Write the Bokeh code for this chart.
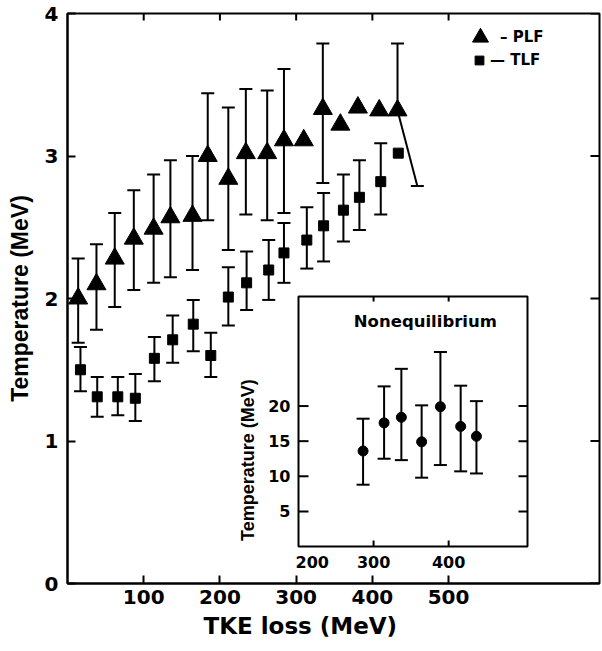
import math
from bokeh.plotting import figure
from bokeh.models import (ColumnDataSource, Whisker, TeeHead, FixedTicker,
                          Range1d, Legend, LegendItem, Title)
from bokeh.core.properties import value
from bokeh.embed import file_html
from bokeh.resources import INLINE

# ---------------- data ----------------
x_ticks = [100, 200, 300, 400, 500]
y_ticks = [0, 1, 2, 3, 4]

plf_x = [14, 38, 62, 87, 113, 135, 164, 184, 211, 234, 262, 284, 310, 335, 358, 381, 409, 433]
plf_t = [2.00, 2.10, 2.28, 2.42, 2.49, 2.57, 2.58, 3.00, 2.84, 3.02, 3.02, 3.11, 3.11, 3.33, 3.22, 3.34, 3.32, 3.32]
plf_hi = [2.28, 2.38, 2.60, 2.76, 2.87, 2.97, 3.00, 3.44, 3.34, 3.47, 3.46, 3.61, None, 3.79, None, None, None, 3.79]
plf_lo = [1.69, 1.78, 1.94, 2.06, 2.11, 2.15, 2.20, 2.55, 2.34, 2.59, 2.55, 2.60, None, 2.81, None, None, None, None]
plf_last_lo_x = [459]
plf_last_lo_t = [2.79]

tlf_x = [17, 39, 66, 89, 114, 138, 165, 188, 211, 235, 264, 284, 314, 336, 362, 383, 411, 434]
tlf_t = [1.50, 1.31, 1.31, 1.30, 1.58, 1.71, 1.82, 1.60, 2.01, 2.11, 2.20, 2.32, 2.41, 2.51, 2.62, 2.71, 2.82, 3.02]
tlf_hi = [1.66, 1.45, 1.45, 1.47, 1.73, 1.88, 1.99, 1.76, 2.22, 2.33, 2.41, 2.53, 2.64, 2.74, 2.87, 2.97, 3.09, None]
tlf_lo = [1.35, 1.17, 1.18, 1.14, 1.42, 1.55, 1.63, 1.45, 1.81, 1.92, 1.99, 2.11, 2.21, 2.26, 2.40, 2.48, 2.59, None]

# inset: Nonequilibrium
neq_x = [286, 314, 337, 364, 389, 416, 437]
neq_t = [13.6, 17.6, 18.4, 14.9, 19.9, 17.1, 15.7]
neq_hi = [18.2, 22.8, 25.3, 20.1, 27.7, 22.9, 20.7]
neq_lo = [8.8, 12.5, 12.3, 9.8, 11.6, 10.7, 10.4]
ins_x_lim = (200, 505)
ins_y_lim = (0, 35.6)
ins_x_ticks = [300, 400]
ins_x_labels = ["200", "300", "400"]
ins_y_ticks = [5, 10, 15, 20]
ins_y_labels = ["5", "10", "15", "20"]

# ---------------- layout ----------------
W, H = 602, 651
FL, FR, FT, FB = 67, 3, 13, 68
FW, FH = W - FL - FR, H - FT - FB
X_END = 698
Y_END = 4

BOLD_FONT = "DejaVu Sans"

p = figure(width=W, height=H, x_range=Range1d(0, X_END), y_range=Range1d(0, Y_END),
           output_backend="svg", toolbar_location=None,
           min_border_left=FL, min_border_right=FR, min_border_top=FT, min_border_bottom=FB)
p.xgrid.visible = False
p.ygrid.visible = False
p.outline_line_color = "black"
p.outline_line_width = 2
p.background_fill_color = "white"
p.border_fill_color = "white"

def style_axis(ax, ticks):
    ax.ticker = FixedTicker(ticks=ticks)
    ax.axis_line_width = 2
    ax.axis_line_color = "black"
    ax.major_tick_in = 8
    ax.major_tick_out = 0
    ax.major_tick_line_width = 2
    ax.major_tick_line_color = "black"
    ax.minor_tick_in = 0
    ax.minor_tick_out = 0
    ax.major_label_text_font = BOLD_FONT
    ax.major_label_text_font_style = "bold"
    ax.major_label_text_font_size = "20px"
    ax.major_label_text_color = "black"

xa = p.xaxis[0]
style_axis(xa, x_ticks)
xa.major_label_standoff = 6

ya = p.yaxis[0]
style_axis(ya, y_ticks)
ya.major_label_standoff = 9
ya.axis_label = "Temperature (MeV)"
ya.axis_label_text_font = "Liberation Sans"
ya.axis_label_text_font_style = "bold"
ya.axis_label_text_font_size = "23px"
ya.axis_label_text_color = "black"
ya.axis_label_standoff = 9

# x axis title, placed below the tick labels and starting where the reference text starts
p.add_layout(Title(text="TKE loss (MeV)", align="left", offset=136, vertical_align="bottom",
                   text_font=BOLD_FONT, text_font_size="23px", text_font_style="bold",
                   text_color="black", standoff=9), "below")

# inward ticks on the top and right frame edges
p.ray(x=x_ticks, y=[Y_END] * len(x_ticks), length=7, length_units="screen", angle=-math.pi / 2,
      line_width=2, line_color="black")
p.ray(x=[X_END] * len(y_ticks), y=y_ticks, length=9, length_units="screen", angle=math.pi,
      line_width=2, line_color="black")

# ---------------- error bars helpers ----------------
def add_whiskers(xs, ys, his, los, x_range_name="default", y_range_name="default", level="underlay"):
    fb = dict(x=[], hi=[], lo=[])
    up = dict(x=[], hi=[], lo=[])
    for x, y, h, l in zip(xs, ys, his, los):
        if h is not None and l is not None:
            fb["x"].append(x); fb["hi"].append(h); fb["lo"].append(l)
        elif h is not None:
            up["x"].append(x); up["hi"].append(h); up["lo"].append(y)
    for d, lower_head in ((fb, True), (up, False)):
        if not d["x"]:
            continue
        w = Whisker(source=ColumnDataSource(d), base="x", upper="hi", lower="lo",
                    dimension="height", line_width=2, line_color="black",
                    upper_head=TeeHead(size=13, line_width=2, line_color="black"),
                    lower_head=TeeHead(size=13, line_width=2, line_color="black") if lower_head else None,
                    x_range_name=x_range_name, y_range_name=y_range_name, level=level)
        p.add_layout(w)

add_whiskers(plf_x, plf_t, plf_hi, plf_lo)
add_whiskers(tlf_x, tlf_t, tlf_hi, tlf_lo)

# slanted lower error bar of the last PLF point
p.segment(x0=[plf_x[-1]], y0=[plf_t[-1]], x1=plf_last_lo_x, y1=plf_last_lo_t,
          line_width=2, line_color="black")
p.scatter(x=plf_last_lo_x, y=plf_last_lo_t, marker="dash", size=13,
          line_width=2, line_color="black")

r_plf = p.scatter(x=plf_x, y=plf_t, marker="triangle", size=19,
                  fill_color="black", line_color="black")
r_tlf = p.scatter(x=tlf_x, y=tlf_t, marker="square", size=10,
                  fill_color="black", line_color="black")

# ---------------- legend ----------------
leg1 = Legend(items=[LegendItem(label="– PLF", renderers=[r_plf])],
              location=(393, 526), glyph_width=40, glyph_height=40,
              label_standoff=0, padding=0, margin=0, spacing=0,
              border_line_color=None, background_fill_alpha=0,
              label_text_font=BOLD_FONT, label_text_font_style="bold",
              label_text_font_size="15px", label_text_color="black")
leg2 = Legend(items=[LegendItem(label="— TLF", renderers=[r_tlf])],
              location=(401, 512), glyph_width=22, glyph_height=22,
              label_standoff=0, padding=0, margin=0, spacing=0,
              border_line_color=None, background_fill_alpha=0,
              label_text_font=BOLD_FONT, label_text_font_style="bold",
              label_text_font_size="15px", label_text_color="black")
p.add_layout(leg1, "center")
p.add_layout(leg2, "center")

# ---------------- inset ----------------
# inset box in screen pixels (page coordinates)
box_l, box_r, box_t, box_b = 298, 527, 296, 546
fx0, fx1 = (box_l - FL) / FW, (box_r - FL) / FW
fy0, fy1 = (FT + FH - box_b) / FH, (FT + FH - box_t) / FH

def extra_range(lim, f0, f1):
    span = (lim[1] - lim[0]) / (f1 - f0)
    start = lim[0] - f0 * span
    return Range1d(start, start + span)

p.extra_x_ranges = {"ix": extra_range(ins_x_lim, fx0, fx1)}
p.extra_y_ranges = {"iy": extra_range(ins_y_lim, fy0, fy1)}
IN = dict(x_range_name="ix", y_range_name="iy")

p.quad(left=[ins_x_lim[0]], right=[ins_x_lim[1]], bottom=[ins_y_lim[0]], top=[ins_y_lim[1]],
       fill_color="white", line_color="black", line_width=2, level="underlay", **IN)

# inset ticks (inward)
n_y = len(ins_y_ticks)
n_x = len(ins_x_ticks)
p.ray(x=[ins_x_lim[0]] * n_y, y=ins_y_ticks, length=10, length_units="screen", angle=0,
      line_width=2, line_color="black", **IN)
p.ray(x=[ins_x_lim[1]] * n_y, y=ins_y_ticks, length=9, length_units="screen", angle=math.pi,
      line_width=2, line_color="black", **IN)
p.ray(x=ins_x_ticks, y=[ins_y_lim[0]] * n_x, length=6, length_units="screen", angle=math.pi / 2,
      line_width=2, line_color="black", **IN)
p.ray(x=ins_x_ticks, y=[ins_y_lim[1]] * n_x, length=5, length_units="screen", angle=-math.pi / 2,
      line_width=2, line_color="black", **IN)

lab_kw = dict(text_font=value(BOLD_FONT), text_font_style="bold", text_font_size="16px",
              text_color="black")
p.text(x=[ins_x_lim[0]] * n_y, y=ins_y_ticks, text=ins_y_labels, x_offset=-8,
       text_align="right", text_baseline="middle", **lab_kw, **IN)
p.text(x=[int(ins_x_labels[0])], y=[ins_y_lim[0]], text=[ins_x_labels[0]], x_offset=-3, y_offset=9,
       text_align="left", text_baseline="top", **lab_kw, **IN)
p.text(x=[int(s) for s in ins_x_labels[1:]], y=[ins_y_lim[0]] * 2, text=ins_x_labels[1:], y_offset=9,
       text_align="center", text_baseline="top", **lab_kw, **IN)

p.text(x=[ins_x_lim[0]], y=[12.3], text=["Temperature (MeV)"], x_offset=-51, angle=math.pi / 2,
       text_align="center", text_baseline="middle", text_font=value("Liberation Sans"),
       text_font_style="bold", text_font_size="18px", text_color="black", **IN)
p.text(x=[369], y=[32.0], text=["Nonequilibrium"], text_align="center", text_baseline="middle",
       text_font=value(BOLD_FONT), text_font_style="bold", text_font_size="16.5px",
       text_color="black", **IN)

add_whiskers(neq_x, neq_t, neq_hi, neq_lo, level="annotation", **IN)
p.scatter(x=neq_x, y=neq_t, marker="circle", size=10, fill_color="black", line_color="black", **IN)

open("out.html", "w").write(file_html(p, INLINE))
